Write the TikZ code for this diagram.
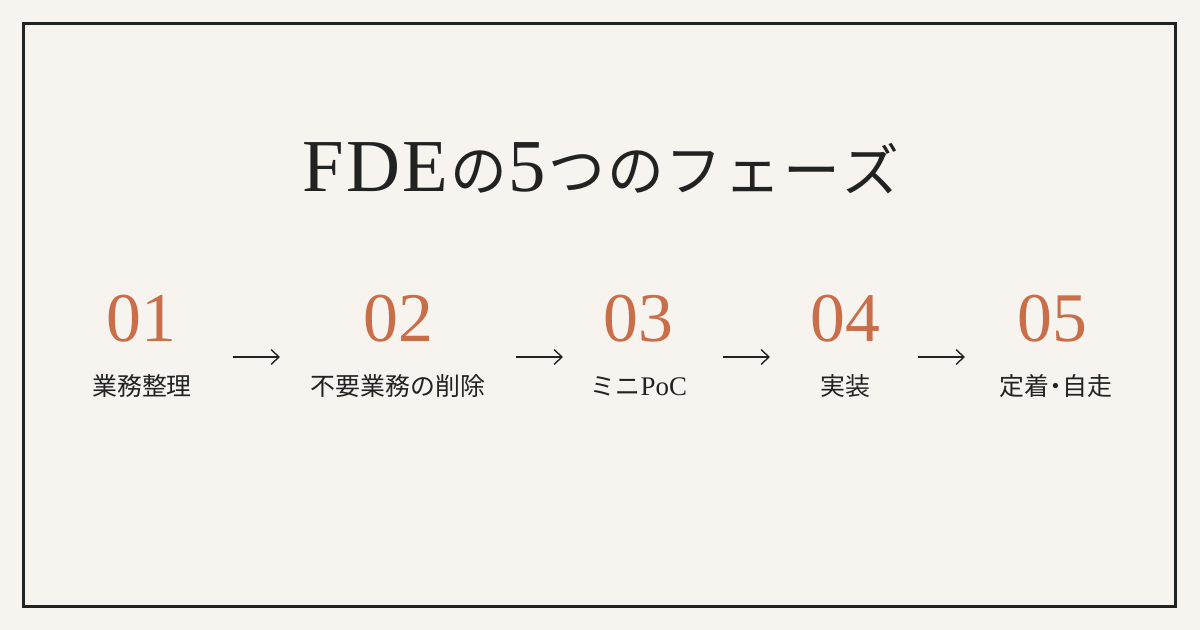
\documentclass[tikz,border=0pt]{standalone}
\usepackage{fontspec}
\newfontfamily\serifL{Liberation Serif}
\newfontfamily\cjk{Noto Sans CJK JP}
\usetikzlibrary{arrows.meta}
\definecolor{bgc}{HTML}{F7F4F0}
\definecolor{numc}{HTML}{C86E48}
\definecolor{inkc}{HTML}{222222}
\newcommand{\tsp}{\hspace{2bp}}
\tikzset{
  numtxt/.style={anchor=base, inner sep=0pt, text=numc, font=\serifL\fontsize{70}{70}\selectfont},
  labtxt/.style={anchor=base, inner sep=0pt, text=inkc, font=\cjk\fontsize{25}{25}\selectfont},
  flow/.style={draw=inkc, line width=1.3bp, -{Straight Barb[length=8pt,width=15pt,line width=1.4bp]}},
}
\begin{document}
\begin{tikzpicture}[x=1bp,y=-1bp]
\useasboundingbox (0,0) rectangle (1200,630);
\fill[bgc] (0,0) rectangle (1200,630);
\draw[inkc, line width=3bp] (23.5,23.5) rectangle (1175,606);
\node[anchor=base, inner sep=0pt, text=inkc] (title) at (601,192)
  {{\serifL\fontsize{75}{75}\selectfont F\tsp D\tsp E}\tsp{\cjk\fontsize{57}{57}\selectfont の}\tsp{\serifL\fontsize{75}{75}\selectfont 5}\tsp{\cjk\fontsize{57}{57}\selectfont つ\tsp の\tsp フ\tsp ェ\tsp ー\tsp ズ}};
\node[numtxt] (n1) at (141,342) {01};
\node[numtxt] (n2) at (398,342) {02};
\node[numtxt] (n3) at (638,342) {03};
\node[numtxt] (n4) at (845,342) {04};
\node[numtxt] (n5) at (1052,342) {05};
\node[labtxt] (l1) at (142,395) {業務整理};
\node[labtxt] (l2) at (398,395) {不要業務の削除};
\node[labtxt] (l3) at (639,395) {ミニ{\serifL\fontsize{27}{27}\selectfont PoC}};
\node[labtxt] (l4) at (845,395) {実装};
\node[labtxt] (l5) at (1056,395) {定着\hspace{-6bp}・\hspace{-6bp}自走};
\coordinate (a1s) at (233,357); \coordinate (a1e) at (280,357);
\coordinate (a2s) at (516,357); \coordinate (a2e) at (563,357);
\coordinate (a3s) at (723,357); \coordinate (a3e) at (770,357);
\coordinate (a4s) at (918,357); \coordinate (a4e) at (965,357);
\draw[flow] (a1s) -- (a1e);
\draw[flow] (a2s) -- (a2e);
\draw[flow] (a3s) -- (a3e);
\draw[flow] (a4s) -- (a4e);
\end{tikzpicture}
\end{document}
